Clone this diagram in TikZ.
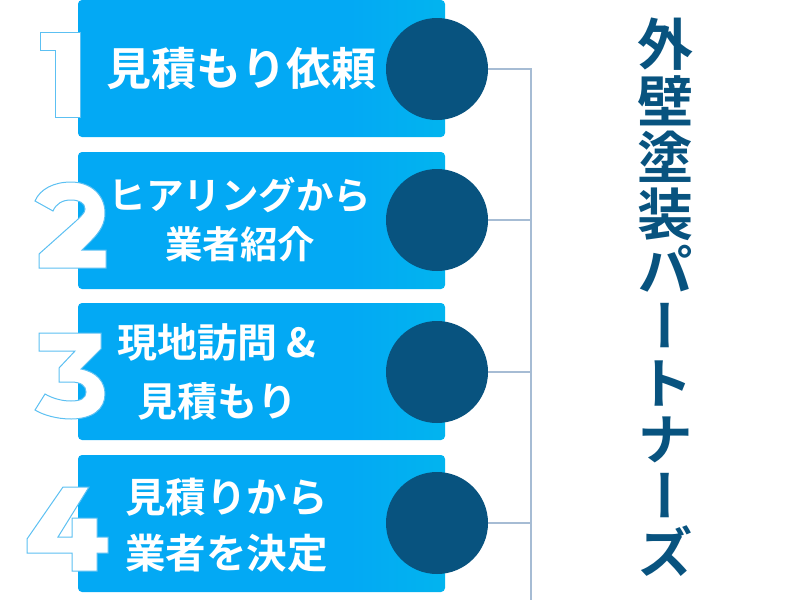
\documentclass[tikz,border=0pt]{standalone}
\usepackage{fontspec}
\newfontfamily\jpb{Noto Sans CJK JP}[UprightFont=* Bold]
\newfontfamily\jpv{Noto Sans CJK JP}[UprightFont=* Bold, RawFeature=+vert]
\definecolor{boxL}{HTML}{03A9F4}
\definecolor{boxR}{HTML}{00C9E4}
\definecolor{dark}{HTML}{08537F}
\definecolor{conn}{HTML}{A6BCD4}
\definecolor{numline}{HTML}{5CC0F2}
\pgfdeclarehorizontalshading{boxshade}{100bp}{color(0bp)=(boxL); color(62bp)=(boxL); color(100bp)=(boxR)}
\tikzset{
  stepbox/.style={shading=boxshade, rounded corners=4pt, minimum width=367pt, minimum height=137pt, inner sep=0pt, draw=none},
  dot/.style={circle, fill=dark, minimum size=102pt, inner sep=0pt},
  lbl/.style={text=white, align=center, inner sep=0pt},
  digit/.style={fill=white, draw=numline, line width=1pt, line join=miter},
  connector/.style={draw=conn, line width=1.1pt},
}
\begin{document}
\begin{tikzpicture}[x=1pt,y=-1pt]
\useasboundingbox (0,0) rectangle (800,600);
% boxes
\node[stepbox] (b1) at (261.5,68.5) {};
\node[stepbox] (b2) at (261.5,220.5) {};
\node[stepbox] (b3) at (261.5,371.5) {};
\node[stepbox] (b4) at (261.5,523.5) {};
% numbers (outlined white shapes)
\path[digit] (40,32) -- (80,32) -- (80,117) -- (55,117) -- (55,50) -- (40,50) -- cycle;
\path[digit] (35,201) .. controls (40,189) and (54,182) .. (71,182)
  .. controls (91,182) and (105,195) .. (105,213)
  .. controls (105,224) and (100,232) .. (91,241)
  -- (82,250) -- (106,250) -- (106,268) -- (39,268) -- (39,254)
  -- (76,221) .. controls (81,216) and (85,213) .. (85,209)
  .. controls (85,203) and (79,200) .. (71,200)
  .. controls (62,200) and (56,204) .. (53,211) -- cycle;
\path[digit] (39,333) -- (101,333) -- (101,349) -- (81,369)
  .. controls (97,372) and (105,382) .. (105,394)
  .. controls (105,409) and (93,419) .. (71,419)
  .. controls (57,419) and (43,415) .. (35,410) -- (45,394)
  .. controls (52,398) and (61,401) .. (71,401)
  .. controls (81,401) and (86,398) .. (86,392)
  .. controls (86,386) and (81,382) .. (71,382)
  -- (59,382) -- (59,368) -- (75,351) -- (39,351) -- cycle;
\path[digit] (63,487) -- (89,487) -- (58,537) -- (72,537) -- (72,518) -- (97,518)
  -- (97,537) -- (108,537) -- (108,553) -- (97,553) -- (97,571) -- (72,571)
  -- (72,553) -- (27,553) -- (27,539) -- cycle;
% labels
\node[lbl, font=\jpb\fontsize{45}{45}\selectfont] (t1) at (241,68) {見積もり依頼};
\node[lbl, font=\jpb\fontsize{37.5}{49}\selectfont] (t2) at (240,219) {ヒアリングから\\業者紹介};
\node[lbl, font=\jpb\fontsize{40}{59}\selectfont] (t3) at (217,372) {現地訪問 \&\\見積もり};
\node[lbl, font=\jpb\fontsize{40.5}{56}\selectfont] (t4) at (226.5,525) {見積りから\\業者を決定};
% circles
\node[dot] (c1) at (437,69) {};
\node[dot] (c2) at (437,220) {};
\node[dot] (c3) at (437,372) {};
\node[dot] (c4) at (437,523) {};
% connectors
\coordinate (j1) at (531,69);
\coordinate (j2) at (531,220);
\coordinate (j3) at (531,372);
\coordinate (j4) at (531,523);
\coordinate (jb) at (531,600);
\draw[connector] (c1.east) -- (j1) -- (jb);
\draw[connector] (c2.east) -- (j2);
\draw[connector] (c3.east) -- (j3);
\draw[connector] (c4.east) -- (j4);
% title
\node[font=\jpv\fontsize{56}{56.4}\selectfont, text=dark, align=center, anchor=north, inner sep=0pt] (title) at (665,18) {外\\壁\\塗\\装\\パ\\ー\\ト\\ナ\\ー\\ズ};
\end{tikzpicture}
\end{document}
